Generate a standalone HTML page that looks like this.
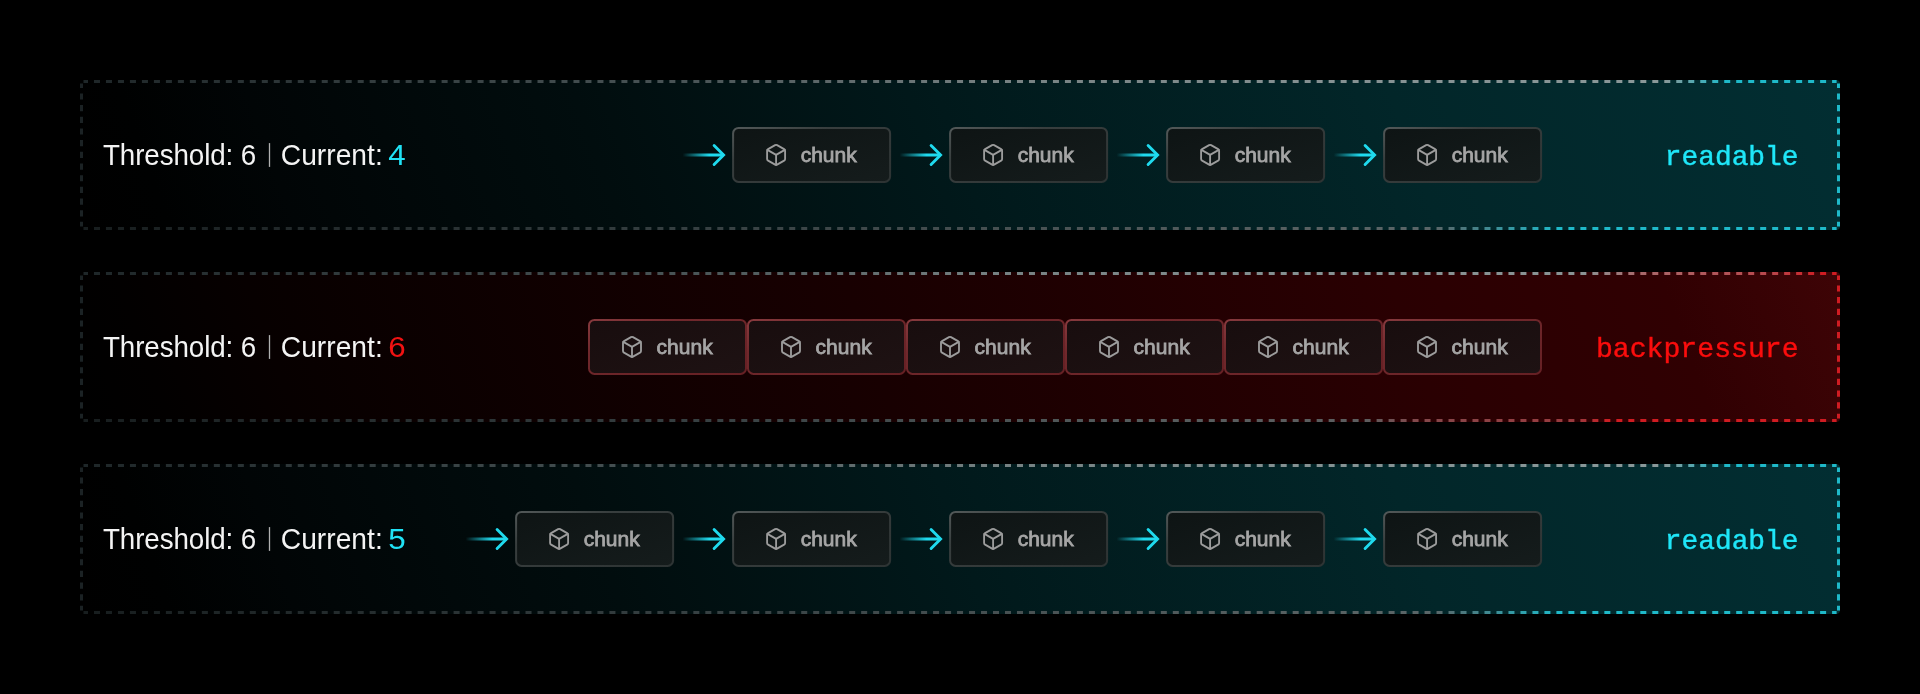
<!DOCTYPE html>
<html><head><meta charset="utf-8"><title>backpressure</title>
<style>
html,body{margin:0;padding:0;background:#000;}
body{width:1920px;height:694px;overflow:hidden;font-family:"Liberation Sans",sans-serif;}
svg{display:block;will-change:transform;}
.lb{font-family:"Liberation Sans",sans-serif;font-size:28px;fill:#f4f4f4;}
.ck{font-family:"Liberation Sans",sans-serif;font-size:21px;fill:#a6a6a6;stroke:#a6a6a6;stroke-width:0.8px;}
.st{font-family:"Liberation Mono",monospace;text-anchor:end;stroke-width:0.42px;}
</style></head><body>
<svg width="1920" height="694" viewBox="0 0 1920 694">
<defs>
<linearGradient id="bgc" gradientUnits="userSpaceOnUse" x1="80.0" y1="150.0" x2="1682.3" y2="-433.2">
<stop offset="0" stop-color="#000000"/><stop offset="0.05" stop-color="#000101"/><stop offset="0.12" stop-color="#010506"/><stop offset="0.3" stop-color="#010d0e"/><stop offset="0.5" stop-color="#01191b"/><stop offset="0.75" stop-color="#022629"/><stop offset="1" stop-color="#022e32"/>
</linearGradient>
<linearGradient id="bgr" gradientUnits="userSpaceOnUse" x1="80.0" y1="150.0" x2="1682.3" y2="-433.2">
<stop offset="0" stop-color="#000000"/><stop offset="0.05" stop-color="#020000"/><stop offset="0.12" stop-color="#070000"/><stop offset="0.45" stop-color="#180001"/><stop offset="0.75" stop-color="#2a0002"/><stop offset="0.9" stop-color="#300002"/><stop offset="1" stop-color="#3e0406"/>
</linearGradient>
<linearGradient id="csc" x1="0" y1="0" x2="1" y2="1"><stop offset="0" stop-color="#525858"/><stop offset="0.3" stop-color="#383e3e"/><stop offset="1" stop-color="#2d3333"/></linearGradient>
<linearGradient id="cfc" x1="0" y1="0" x2="1" y2="1"><stop offset="0" stop-color="#0e1414"/><stop offset="1" stop-color="#151c1c"/></linearGradient>
<linearGradient id="csr" x1="0" y1="0" x2="1" y2="1"><stop offset="0" stop-color="#86393d"/><stop offset="0.3" stop-color="#70282c"/><stop offset="1" stop-color="#662024"/></linearGradient>
<linearGradient id="cfr" x1="0" y1="0" x2="1" y2="1"><stop offset="0" stop-color="#180d0e"/><stop offset="1" stop-color="#1e1213"/></linearGradient>
<linearGradient id="bdct" gradientUnits="userSpaceOnUse" x1="80" y1="0" x2="1840" y2="0">
<stop offset="0" stop-color="#1e2628"/><stop offset="0.35" stop-color="#4a5557"/><stop offset="0.52" stop-color="#768182"/><stop offset="0.7" stop-color="#859192"/><stop offset="0.9" stop-color="#8a9899"/><stop offset="0.935" stop-color="#1fb9c9"/><stop offset="1" stop-color="#1fb9c9"/>
</linearGradient>
<linearGradient id="bdcb" gradientUnits="userSpaceOnUse" x1="80" y1="0" x2="1840" y2="0">
<stop offset="0" stop-color="#171d1e"/><stop offset="0.35" stop-color="#364042"/><stop offset="0.7" stop-color="#586162"/><stop offset="0.77" stop-color="#5a6668"/><stop offset="0.84" stop-color="#1fb9c9"/><stop offset="1" stop-color="#1fb9c9"/>
</linearGradient>
<linearGradient id="bdrt" gradientUnits="userSpaceOnUse" x1="80" y1="0" x2="1840" y2="0">
<stop offset="0" stop-color="#1e2628"/><stop offset="0.35" stop-color="#4a5557"/><stop offset="0.52" stop-color="#768182"/><stop offset="0.7" stop-color="#859192"/><stop offset="0.855" stop-color="#8a9394"/><stop offset="0.885" stop-color="#a86a6c"/><stop offset="0.96" stop-color="#b8484d"/><stop offset="0.99" stop-color="#cf1c22"/><stop offset="1" stop-color="#cf1c22"/>
</linearGradient>
<linearGradient id="bdrb" gradientUnits="userSpaceOnUse" x1="80" y1="0" x2="1840" y2="0">
<stop offset="0" stop-color="#171d1e"/><stop offset="0.35" stop-color="#364042"/><stop offset="0.6" stop-color="#545c5d"/><stop offset="0.73" stop-color="#5c5e5f"/><stop offset="0.76" stop-color="#84484b"/><stop offset="0.85" stop-color="#9a3a3e"/><stop offset="0.87" stop-color="#cf1c22"/><stop offset="1" stop-color="#cf1c22"/>
</linearGradient>
<linearGradient id="ag0" gradientUnits="userSpaceOnUse" x1="682.60" y1="0" x2="723.80" y2="0"><stop offset="0" stop-color="#1fdaee" stop-opacity="0"/><stop offset="0.65" stop-color="#1fdaee" stop-opacity="1"/></linearGradient>
<linearGradient id="ag1" gradientUnits="userSpaceOnUse" x1="899.60" y1="0" x2="940.80" y2="0"><stop offset="0" stop-color="#1fdaee" stop-opacity="0"/><stop offset="0.65" stop-color="#1fdaee" stop-opacity="1"/></linearGradient>
<linearGradient id="ag2" gradientUnits="userSpaceOnUse" x1="1116.60" y1="0" x2="1157.80" y2="0"><stop offset="0" stop-color="#1fdaee" stop-opacity="0"/><stop offset="0.65" stop-color="#1fdaee" stop-opacity="1"/></linearGradient>
<linearGradient id="ag3" gradientUnits="userSpaceOnUse" x1="1333.60" y1="0" x2="1374.80" y2="0"><stop offset="0" stop-color="#1fdaee" stop-opacity="0"/><stop offset="0.65" stop-color="#1fdaee" stop-opacity="1"/></linearGradient>
<linearGradient id="ag4" gradientUnits="userSpaceOnUse" x1="465.60" y1="0" x2="506.80" y2="0"><stop offset="0" stop-color="#1fdaee" stop-opacity="0"/><stop offset="0.65" stop-color="#1fdaee" stop-opacity="1"/></linearGradient>
<linearGradient id="ag5" gradientUnits="userSpaceOnUse" x1="682.60" y1="0" x2="723.80" y2="0"><stop offset="0" stop-color="#1fdaee" stop-opacity="0"/><stop offset="0.65" stop-color="#1fdaee" stop-opacity="1"/></linearGradient>
<linearGradient id="ag6" gradientUnits="userSpaceOnUse" x1="899.60" y1="0" x2="940.80" y2="0"><stop offset="0" stop-color="#1fdaee" stop-opacity="0"/><stop offset="0.65" stop-color="#1fdaee" stop-opacity="1"/></linearGradient>
<linearGradient id="ag7" gradientUnits="userSpaceOnUse" x1="1116.60" y1="0" x2="1157.80" y2="0"><stop offset="0" stop-color="#1fdaee" stop-opacity="0"/><stop offset="0.65" stop-color="#1fdaee" stop-opacity="1"/></linearGradient>
<linearGradient id="ag8" gradientUnits="userSpaceOnUse" x1="1333.60" y1="0" x2="1374.80" y2="0"><stop offset="0" stop-color="#1fdaee" stop-opacity="0"/><stop offset="0.65" stop-color="#1fdaee" stop-opacity="1"/></linearGradient>
</defs>
<rect width="1920" height="694" fill="#000"/>
<g transform="translate(0,80)"><rect x="80" y="0" width="1760" height="150" rx="4" fill="url(#bgc)"/><g fill="none" stroke-width="3"><path d="M83.5 1.5H1836.6" stroke="url(#bdct)" stroke-dasharray="6 5.987" stroke-dashoffset="1.5"/><path d="M83.5 148.5H1836.6" stroke="url(#bdcb)" stroke-dasharray="6 5.987" stroke-dashoffset="1.5"/><path d="M81.5 3.5V146.5" stroke="#1b2224" stroke-dasharray="6.2 5.48" stroke-dashoffset="1.8"/><path d="M1838.5 3.5V146.5" stroke="#1fb9c9" stroke-dasharray="6.2 5.48" stroke-dashoffset="1.8"/></g></g>
<g transform="translate(0,272)"><rect x="80" y="0" width="1760" height="150" rx="4" fill="url(#bgr)"/><g fill="none" stroke-width="3"><path d="M83.5 1.5H1836.6" stroke="url(#bdrt)" stroke-dasharray="6 5.987" stroke-dashoffset="1.5"/><path d="M83.5 148.5H1836.6" stroke="url(#bdrb)" stroke-dasharray="6 5.987" stroke-dashoffset="1.5"/><path d="M81.5 3.5V146.5" stroke="#1b2224" stroke-dasharray="6.2 5.48" stroke-dashoffset="1.8"/><path d="M1838.5 3.5V146.5" stroke="#cf1c22" stroke-dasharray="6.2 5.48" stroke-dashoffset="1.8"/></g></g>
<g transform="translate(0,464)"><rect x="80" y="0" width="1760" height="150" rx="4" fill="url(#bgc)"/><g fill="none" stroke-width="3"><path d="M83.5 1.5H1836.6" stroke="url(#bdct)" stroke-dasharray="6 5.987" stroke-dashoffset="1.5"/><path d="M83.5 148.5H1836.6" stroke="url(#bdcb)" stroke-dasharray="6 5.987" stroke-dashoffset="1.5"/><path d="M81.5 3.5V146.5" stroke="#1b2224" stroke-dasharray="6.2 5.48" stroke-dashoffset="1.8"/><path d="M1838.5 3.5V146.5" stroke="#1fb9c9" stroke-dasharray="6.2 5.48" stroke-dashoffset="1.8"/></g></g>
<g fill="none" stroke-width="2.9"><path d="M682.60 155.00H723.60" stroke="url(#ag0)"/><path d="M714.10 145.50L723.60 155.00L714.10 164.50" stroke="#1fdaee" stroke-linecap="round" stroke-linejoin="miter"/></g>
<g transform="translate(732.10,126.90)"><rect x="1" y="1" width="157" height="54" rx="5.5" fill="url(#cfc)" stroke="url(#csc)" stroke-width="2"/><g transform="translate(32,16.0)" fill="none" stroke="#9c9c9c" stroke-width="1.85" stroke-linecap="round" stroke-linejoin="round"><path d="M21 8a2 2 0 0 0-1-1.73l-7-4a2 2 0 0 0-2 0l-7 4A2 2 0 0 0 3 8v8a2 2 0 0 0 1 1.73l7 4a2 2 0 0 0 2 0l7-4A2 2 0 0 0 21 16Z"/><path d="m3.3 7 8.7 5 8.7-5"/><path d="M12 22V12"/></g><text class="ck" x="68.6" y="35.2">chunk</text></g>
<g fill="none" stroke-width="2.9"><path d="M899.60 155.00H940.60" stroke="url(#ag1)"/><path d="M931.10 145.50L940.60 155.00L931.10 164.50" stroke="#1fdaee" stroke-linecap="round" stroke-linejoin="miter"/></g>
<g transform="translate(949.10,126.90)"><rect x="1" y="1" width="157" height="54" rx="5.5" fill="url(#cfc)" stroke="url(#csc)" stroke-width="2"/><g transform="translate(32,16.0)" fill="none" stroke="#9c9c9c" stroke-width="1.85" stroke-linecap="round" stroke-linejoin="round"><path d="M21 8a2 2 0 0 0-1-1.73l-7-4a2 2 0 0 0-2 0l-7 4A2 2 0 0 0 3 8v8a2 2 0 0 0 1 1.73l7 4a2 2 0 0 0 2 0l7-4A2 2 0 0 0 21 16Z"/><path d="m3.3 7 8.7 5 8.7-5"/><path d="M12 22V12"/></g><text class="ck" x="68.6" y="35.2">chunk</text></g>
<g fill="none" stroke-width="2.9"><path d="M1116.60 155.00H1157.60" stroke="url(#ag2)"/><path d="M1148.10 145.50L1157.60 155.00L1148.10 164.50" stroke="#1fdaee" stroke-linecap="round" stroke-linejoin="miter"/></g>
<g transform="translate(1166.10,126.90)"><rect x="1" y="1" width="157" height="54" rx="5.5" fill="url(#cfc)" stroke="url(#csc)" stroke-width="2"/><g transform="translate(32,16.0)" fill="none" stroke="#9c9c9c" stroke-width="1.85" stroke-linecap="round" stroke-linejoin="round"><path d="M21 8a2 2 0 0 0-1-1.73l-7-4a2 2 0 0 0-2 0l-7 4A2 2 0 0 0 3 8v8a2 2 0 0 0 1 1.73l7 4a2 2 0 0 0 2 0l7-4A2 2 0 0 0 21 16Z"/><path d="m3.3 7 8.7 5 8.7-5"/><path d="M12 22V12"/></g><text class="ck" x="68.6" y="35.2">chunk</text></g>
<g fill="none" stroke-width="2.9"><path d="M1333.60 155.00H1374.60" stroke="url(#ag3)"/><path d="M1365.10 145.50L1374.60 155.00L1365.10 164.50" stroke="#1fdaee" stroke-linecap="round" stroke-linejoin="miter"/></g>
<g transform="translate(1383.10,126.90)"><rect x="1" y="1" width="157" height="54" rx="5.5" fill="url(#cfc)" stroke="url(#csc)" stroke-width="2"/><g transform="translate(32,16.0)" fill="none" stroke="#9c9c9c" stroke-width="1.85" stroke-linecap="round" stroke-linejoin="round"><path d="M21 8a2 2 0 0 0-1-1.73l-7-4a2 2 0 0 0-2 0l-7 4A2 2 0 0 0 3 8v8a2 2 0 0 0 1 1.73l7 4a2 2 0 0 0 2 0l7-4A2 2 0 0 0 21 16Z"/><path d="m3.3 7 8.7 5 8.7-5"/><path d="M12 22V12"/></g><text class="ck" x="68.6" y="35.2">chunk</text></g>
<g fill="none" stroke-width="2.9"><path d="M465.60 539.00H506.60" stroke="url(#ag4)"/><path d="M497.10 529.50L506.60 539.00L497.10 548.50" stroke="#1fdaee" stroke-linecap="round" stroke-linejoin="miter"/></g>
<g transform="translate(515.10,510.90)"><rect x="1" y="1" width="157" height="54" rx="5.5" fill="url(#cfc)" stroke="url(#csc)" stroke-width="2"/><g transform="translate(32,16.0)" fill="none" stroke="#9c9c9c" stroke-width="1.85" stroke-linecap="round" stroke-linejoin="round"><path d="M21 8a2 2 0 0 0-1-1.73l-7-4a2 2 0 0 0-2 0l-7 4A2 2 0 0 0 3 8v8a2 2 0 0 0 1 1.73l7 4a2 2 0 0 0 2 0l7-4A2 2 0 0 0 21 16Z"/><path d="m3.3 7 8.7 5 8.7-5"/><path d="M12 22V12"/></g><text class="ck" x="68.6" y="35.2">chunk</text></g>
<g fill="none" stroke-width="2.9"><path d="M682.60 539.00H723.60" stroke="url(#ag5)"/><path d="M714.10 529.50L723.60 539.00L714.10 548.50" stroke="#1fdaee" stroke-linecap="round" stroke-linejoin="miter"/></g>
<g transform="translate(732.10,510.90)"><rect x="1" y="1" width="157" height="54" rx="5.5" fill="url(#cfc)" stroke="url(#csc)" stroke-width="2"/><g transform="translate(32,16.0)" fill="none" stroke="#9c9c9c" stroke-width="1.85" stroke-linecap="round" stroke-linejoin="round"><path d="M21 8a2 2 0 0 0-1-1.73l-7-4a2 2 0 0 0-2 0l-7 4A2 2 0 0 0 3 8v8a2 2 0 0 0 1 1.73l7 4a2 2 0 0 0 2 0l7-4A2 2 0 0 0 21 16Z"/><path d="m3.3 7 8.7 5 8.7-5"/><path d="M12 22V12"/></g><text class="ck" x="68.6" y="35.2">chunk</text></g>
<g fill="none" stroke-width="2.9"><path d="M899.60 539.00H940.60" stroke="url(#ag6)"/><path d="M931.10 529.50L940.60 539.00L931.10 548.50" stroke="#1fdaee" stroke-linecap="round" stroke-linejoin="miter"/></g>
<g transform="translate(949.10,510.90)"><rect x="1" y="1" width="157" height="54" rx="5.5" fill="url(#cfc)" stroke="url(#csc)" stroke-width="2"/><g transform="translate(32,16.0)" fill="none" stroke="#9c9c9c" stroke-width="1.85" stroke-linecap="round" stroke-linejoin="round"><path d="M21 8a2 2 0 0 0-1-1.73l-7-4a2 2 0 0 0-2 0l-7 4A2 2 0 0 0 3 8v8a2 2 0 0 0 1 1.73l7 4a2 2 0 0 0 2 0l7-4A2 2 0 0 0 21 16Z"/><path d="m3.3 7 8.7 5 8.7-5"/><path d="M12 22V12"/></g><text class="ck" x="68.6" y="35.2">chunk</text></g>
<g fill="none" stroke-width="2.9"><path d="M1116.60 539.00H1157.60" stroke="url(#ag7)"/><path d="M1148.10 529.50L1157.60 539.00L1148.10 548.50" stroke="#1fdaee" stroke-linecap="round" stroke-linejoin="miter"/></g>
<g transform="translate(1166.10,510.90)"><rect x="1" y="1" width="157" height="54" rx="5.5" fill="url(#cfc)" stroke="url(#csc)" stroke-width="2"/><g transform="translate(32,16.0)" fill="none" stroke="#9c9c9c" stroke-width="1.85" stroke-linecap="round" stroke-linejoin="round"><path d="M21 8a2 2 0 0 0-1-1.73l-7-4a2 2 0 0 0-2 0l-7 4A2 2 0 0 0 3 8v8a2 2 0 0 0 1 1.73l7 4a2 2 0 0 0 2 0l7-4A2 2 0 0 0 21 16Z"/><path d="m3.3 7 8.7 5 8.7-5"/><path d="M12 22V12"/></g><text class="ck" x="68.6" y="35.2">chunk</text></g>
<g fill="none" stroke-width="2.9"><path d="M1333.60 539.00H1374.60" stroke="url(#ag8)"/><path d="M1365.10 529.50L1374.60 539.00L1365.10 548.50" stroke="#1fdaee" stroke-linecap="round" stroke-linejoin="miter"/></g>
<g transform="translate(1383.10,510.90)"><rect x="1" y="1" width="157" height="54" rx="5.5" fill="url(#cfc)" stroke="url(#csc)" stroke-width="2"/><g transform="translate(32,16.0)" fill="none" stroke="#9c9c9c" stroke-width="1.85" stroke-linecap="round" stroke-linejoin="round"><path d="M21 8a2 2 0 0 0-1-1.73l-7-4a2 2 0 0 0-2 0l-7 4A2 2 0 0 0 3 8v8a2 2 0 0 0 1 1.73l7 4a2 2 0 0 0 2 0l7-4A2 2 0 0 0 21 16Z"/><path d="m3.3 7 8.7 5 8.7-5"/><path d="M12 22V12"/></g><text class="ck" x="68.6" y="35.2">chunk</text></g>
<g transform="translate(588.00,318.90)"><rect x="1" y="1" width="157" height="54" rx="5.5" fill="url(#cfr)" stroke="url(#csr)" stroke-width="2"/><g transform="translate(32,16.0)" fill="none" stroke="#9c9c9c" stroke-width="1.85" stroke-linecap="round" stroke-linejoin="round"><path d="M21 8a2 2 0 0 0-1-1.73l-7-4a2 2 0 0 0-2 0l-7 4A2 2 0 0 0 3 8v8a2 2 0 0 0 1 1.73l7 4a2 2 0 0 0 2 0l7-4A2 2 0 0 0 21 16Z"/><path d="m3.3 7 8.7 5 8.7-5"/><path d="M12 22V12"/></g><text class="ck" x="68.6" y="35.2">chunk</text></g>
<g transform="translate(747.00,318.90)"><rect x="1" y="1" width="157" height="54" rx="5.5" fill="url(#cfr)" stroke="url(#csr)" stroke-width="2"/><g transform="translate(32,16.0)" fill="none" stroke="#9c9c9c" stroke-width="1.85" stroke-linecap="round" stroke-linejoin="round"><path d="M21 8a2 2 0 0 0-1-1.73l-7-4a2 2 0 0 0-2 0l-7 4A2 2 0 0 0 3 8v8a2 2 0 0 0 1 1.73l7 4a2 2 0 0 0 2 0l7-4A2 2 0 0 0 21 16Z"/><path d="m3.3 7 8.7 5 8.7-5"/><path d="M12 22V12"/></g><text class="ck" x="68.6" y="35.2">chunk</text></g>
<g transform="translate(906.00,318.90)"><rect x="1" y="1" width="157" height="54" rx="5.5" fill="url(#cfr)" stroke="url(#csr)" stroke-width="2"/><g transform="translate(32,16.0)" fill="none" stroke="#9c9c9c" stroke-width="1.85" stroke-linecap="round" stroke-linejoin="round"><path d="M21 8a2 2 0 0 0-1-1.73l-7-4a2 2 0 0 0-2 0l-7 4A2 2 0 0 0 3 8v8a2 2 0 0 0 1 1.73l7 4a2 2 0 0 0 2 0l7-4A2 2 0 0 0 21 16Z"/><path d="m3.3 7 8.7 5 8.7-5"/><path d="M12 22V12"/></g><text class="ck" x="68.6" y="35.2">chunk</text></g>
<g transform="translate(1065.00,318.90)"><rect x="1" y="1" width="157" height="54" rx="5.5" fill="url(#cfr)" stroke="url(#csr)" stroke-width="2"/><g transform="translate(32,16.0)" fill="none" stroke="#9c9c9c" stroke-width="1.85" stroke-linecap="round" stroke-linejoin="round"><path d="M21 8a2 2 0 0 0-1-1.73l-7-4a2 2 0 0 0-2 0l-7 4A2 2 0 0 0 3 8v8a2 2 0 0 0 1 1.73l7 4a2 2 0 0 0 2 0l7-4A2 2 0 0 0 21 16Z"/><path d="m3.3 7 8.7 5 8.7-5"/><path d="M12 22V12"/></g><text class="ck" x="68.6" y="35.2">chunk</text></g>
<g transform="translate(1224.00,318.90)"><rect x="1" y="1" width="157" height="54" rx="5.5" fill="url(#cfr)" stroke="url(#csr)" stroke-width="2"/><g transform="translate(32,16.0)" fill="none" stroke="#9c9c9c" stroke-width="1.85" stroke-linecap="round" stroke-linejoin="round"><path d="M21 8a2 2 0 0 0-1-1.73l-7-4a2 2 0 0 0-2 0l-7 4A2 2 0 0 0 3 8v8a2 2 0 0 0 1 1.73l7 4a2 2 0 0 0 2 0l7-4A2 2 0 0 0 21 16Z"/><path d="m3.3 7 8.7 5 8.7-5"/><path d="M12 22V12"/></g><text class="ck" x="68.6" y="35.2">chunk</text></g>
<g transform="translate(1383.00,318.90)"><rect x="1" y="1" width="157" height="54" rx="5.5" fill="url(#cfr)" stroke="url(#csr)" stroke-width="2"/><g transform="translate(32,16.0)" fill="none" stroke="#9c9c9c" stroke-width="1.85" stroke-linecap="round" stroke-linejoin="round"><path d="M21 8a2 2 0 0 0-1-1.73l-7-4a2 2 0 0 0-2 0l-7 4A2 2 0 0 0 3 8v8a2 2 0 0 0 1 1.73l7 4a2 2 0 0 0 2 0l7-4A2 2 0 0 0 21 16Z"/><path d="m3.3 7 8.7 5 8.7-5"/><path d="M12 22V12"/></g><text class="ck" x="68.6" y="35.2">chunk</text></g>
<text class="lb" transform="translate(103.0,164.90) scale(0.992,1.035)" letter-spacing="-0.1">Threshold: 6</text><rect x="268.85" y="143.10" width="1.3" height="23.8" fill="#b0b0b0"/><text class="lb" transform="translate(280.8,164.90) scale(1.008,1.035)">Current:</text><text class="lb" transform="translate(388.2,164.90) scale(1.12,1.05)" style="fill:#20e2f5">4</text>
<text class="lb" transform="translate(103.0,356.90) scale(0.992,1.035)" letter-spacing="-0.1">Threshold: 6</text><rect x="268.85" y="335.10" width="1.3" height="23.8" fill="#b0b0b0"/><text class="lb" transform="translate(280.8,356.90) scale(1.008,1.035)">Current:</text><text class="lb" transform="translate(388.2,356.90) scale(1.12,1.05)" style="fill:#f01212">6</text>
<text class="lb" transform="translate(103.0,548.90) scale(0.992,1.035)" letter-spacing="-0.1">Threshold: 6</text><rect x="268.85" y="527.10" width="1.3" height="23.8" fill="#b0b0b0"/><text class="lb" transform="translate(280.8,548.90) scale(1.008,1.035)">Current:</text><text class="lb" transform="translate(388.2,548.90) scale(1.12,1.05)" style="fill:#20e2f5">5</text>
<text class="st" x="1798.6" y="164.90" font-size="27.9" fill="#1fe6f8" stroke="#1fe6f8">readable</text>
<text class="st" x="1798.6" y="356.90" font-size="28.15" fill="#fb0d0d" stroke="#fb0d0d">backpressure</text>
<text class="st" x="1798.6" y="548.90" font-size="27.9" fill="#1fe6f8" stroke="#1fe6f8">readable</text>
</svg></body></html>
